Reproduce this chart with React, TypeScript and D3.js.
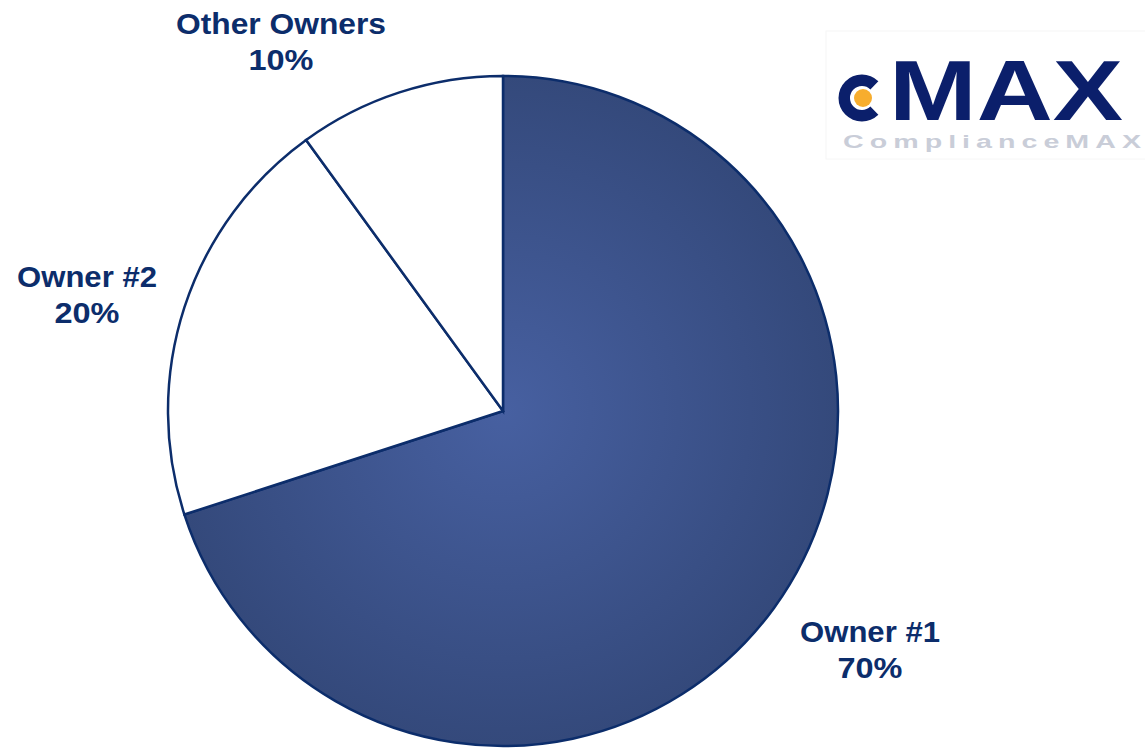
import React, {useEffect, useRef} from 'react';
import * as d3 from 'd3';

// slice data
const owners = ['Owner #1', 'Owner #2', 'Other Owners'];
const shares = [70, 20, 10];
const shareLabels = ['70%', '20%', '10%'];

interface Slice {
  name: string
  value: number
  label: string
}

const width = 1145;
const height = 748;
const navy = '#0c2d6b';

// where each label block sits (centre x, baseline of first line)
const labelPos: [number, number][] = [[870, 642], [87, 287], [281, 34]];

const App: React.FC = () => {
  const ref = useRef<SVGSVGElement>(null);

  useEffect(() => {
    const data: Slice[] = owners.map((n, i) => ({name: n, value: shares[i], label: shareLabels[i]}));
    const svg = d3.select(ref.current);
    svg.selectAll('*').remove();

    const cx = 503, cy = 411, r = 335;

    const defs = svg.append('defs');
    const grad = defs.append('radialGradient')
    .attr('id', 'pieFill')
    .attr('gradientUnits', 'userSpaceOnUse')
    .attr('cx', 0).attr('cy', 0).attr('r', r);
    grad.append('stop').attr('offset', '0%').attr('stop-color', '#4760a1');
    grad.append('stop').attr('offset', '100%').attr('stop-color', '#34497b');

    const pie = d3.pie<Slice>().value(d => d.value).sort(null);
    const arc = d3.arc<d3.PieArcDatum<Slice>>().innerRadius(0).outerRadius(r);

    svg.append('g')
    .attr('transform', `translate(${cx},${cy})`)
    .selectAll('path')
    .data(pie(data))
    .join('path')
    .attr('d', arc)
    .attr('fill', (d, i) => i === 0 ? `url(#pieFill)` : '#ffffff')
    .attr('stroke', navy)
    .attr('stroke-width', 2.5)
    .attr('stroke-linejoin', 'miter');

    // labels
    const labels = svg.append('g')
    .attr('font-family', 'Liberation Sans, Arial, sans-serif')
    .attr('font-weight', 'bold')
    .attr('font-size', 30)
    .attr('fill', navy)
    .attr('text-anchor', 'middle');

    data.forEach((d, i) => {
      const [lx, ly] = labelPos[i];
      labels.append('text').attr('x', lx).attr('y', ly)
      .attr('textLength', d.name.length * 17.5).attr('lengthAdjust', 'spacingAndGlyphs')
      .text(d.name);
      labels.append('text').attr('x', lx).attr('y', ly + 36)
      .attr('textLength', 65).attr('lengthAdjust', 'spacingAndGlyphs')
      .text(d.label);
    });

    // logo
    const logo = svg.append('g');
    logo.append('rect')
    .attr('x', 826).attr('y', 31).attr('width', 330).attr('height', 128)
    .attr('fill', '#ffffff').attr('stroke', '#f6f6f6');
    const ringArc = d3.arc()
    .innerRadius(12).outerRadius(23.5)
    .startAngle(Math.PI / 2 + 0.8).endAngle(Math.PI / 2 + Math.PI * 2 - 0.8);
    logo.append('path')
    .attr('transform', 'translate(862,98)')
    .attr('d', ringArc({} as any) as string)
    .attr('fill', '#0b1f6b');
    logo.append('circle')
    .attr('cx', 863).attr('cy', 98).attr('r', 9)
    .attr('fill', '#f7ad2e');
    logo.append('text')
    .attr('x', 889).attr('y', 120)
    .attr('font-family', 'Liberation Sans, Arial, sans-serif')
    .attr('font-weight', 'bold')
    .attr('font-size', 85)
    .attr('textLength', 234)
    .attr('lengthAdjust', 'spacingAndGlyphs')
    .attr('fill', '#0b1f6b')
    .text('MAX');
    logo.append('text')
    .attr('x', 843).attr('y', 148)
    .attr('font-family', 'Liberation Sans, Arial, sans-serif')
    .attr('font-weight', 'bold')
    .attr('font-size', 19)
    .attr('letter-spacing', 4)
    .attr('textLength', 304)
    .attr('lengthAdjust', 'spacingAndGlyphs')
    .attr('fill', '#c9cdd8')
    .text('ComplianceMAX');
  }, []);

  return <div style={{position: 'absolute', left: 0, top: 0}}>
    <svg ref={ref} width={width} height={height} style={{display: 'block', background: '#ffffff'}}/>
  </div>;
};

export default App;
